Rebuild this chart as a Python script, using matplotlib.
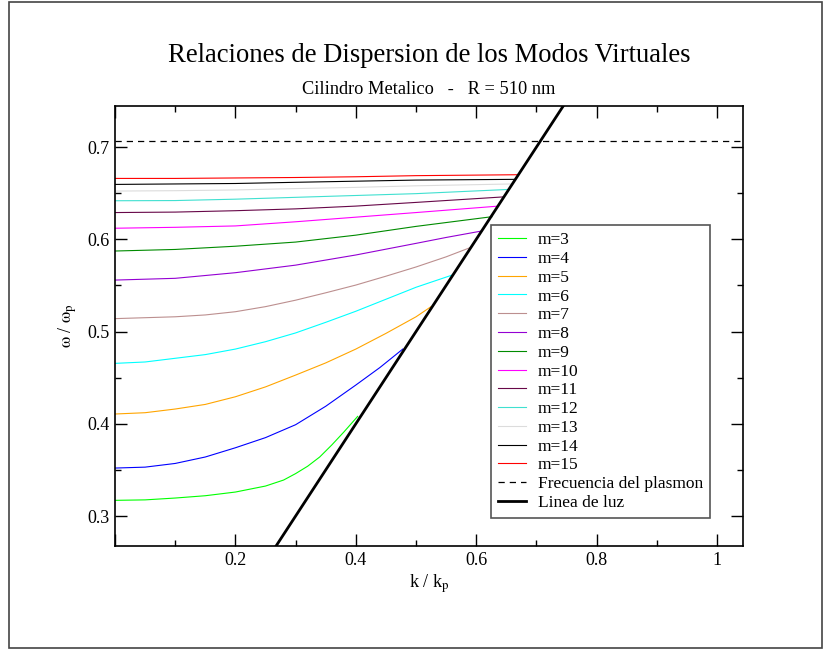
import numpy as np
import matplotlib.pyplot as plt
from matplotlib.patches import Rectangle
from matplotlib.ticker import MultipleLocator, FuncFormatter

plt.rcParams['font.family'] = ['Liberation Serif', 'DejaVu Serif']
plt.rcParams['mathtext.fontset'] = 'stix'

# modos m = 3..15 : k/kp y w/wp
modes = [3, 4, 5, 6, 7, 8, 9, 10, 11, 12, 13, 14, 15]

k_m3 = [0.0, 0.05, 0.1, 0.15, 0.2, 0.25, 0.28, 0.3, 0.32, 0.34, 0.36, 0.38, 0.403]
w_m3 = [0.317, 0.3175, 0.3195, 0.322, 0.326, 0.3325, 0.339, 0.346, 0.354, 0.364, 0.377, 0.391, 0.408]
k_m4 = [0.0, 0.05, 0.1, 0.15, 0.2, 0.25, 0.3, 0.35, 0.4, 0.44, 0.478]
w_m4 = [0.352, 0.353, 0.357, 0.364, 0.374, 0.385, 0.399, 0.419, 0.442, 0.461, 0.481]
k_m5 = [0.0, 0.05, 0.1, 0.15, 0.2, 0.25, 0.3, 0.35, 0.4, 0.45, 0.5, 0.525]
w_m5 = [0.4106, 0.412, 0.416, 0.421, 0.4293, 0.44, 0.4528, 0.466, 0.481, 0.498, 0.516, 0.527]
k_m6 = [0.0, 0.05, 0.1, 0.15, 0.2, 0.25, 0.3, 0.35, 0.4, 0.45, 0.5, 0.559]
w_m6 = [0.4655, 0.467, 0.471, 0.475, 0.481, 0.489, 0.4985, 0.51, 0.522, 0.535, 0.548, 0.561]
k_m7 = [0.0, 0.1, 0.15, 0.2, 0.25, 0.3, 0.35, 0.4, 0.45, 0.5, 0.55, 0.59]
w_m7 = [0.514, 0.516, 0.518, 0.5215, 0.527, 0.534, 0.542, 0.5504, 0.56, 0.57, 0.581, 0.591]
k_m8 = [0.0, 0.1, 0.2, 0.3, 0.4, 0.5, 0.55, 0.609]
w_m8 = [0.5558, 0.5577, 0.5638, 0.572, 0.583, 0.5956, 0.602, 0.609]
k_m9 = [0.0, 0.1, 0.2, 0.3, 0.4, 0.5, 0.626]
w_m9 = [0.5873, 0.589, 0.5925, 0.597, 0.6045, 0.614, 0.6245]
k_m10 = [0.0, 0.1, 0.2, 0.3, 0.4, 0.5, 0.637]
w_m10 = [0.612, 0.613, 0.6145, 0.619, 0.624, 0.629, 0.636]
k_m11 = [0.0, 0.1, 0.2, 0.3, 0.4, 0.5, 0.646]
w_m11 = [0.629, 0.6295, 0.631, 0.633, 0.636, 0.640, 0.646]
k_m12 = [0.0, 0.1, 0.2, 0.3, 0.4, 0.5, 0.652]
w_m12 = [0.6418, 0.642, 0.6435, 0.6455, 0.6475, 0.6495, 0.654]
k_m13 = [0.0, 0.1, 0.2, 0.3, 0.4, 0.5, 0.659]
w_m13 = [0.6523, 0.6527, 0.6535, 0.655, 0.6563, 0.658, 0.660]
k_m14 = [0.0, 0.1, 0.2, 0.3, 0.4, 0.5, 0.664]
w_m14 = [0.6595, 0.66, 0.6605, 0.6618, 0.663, 0.6642, 0.665]
k_m15 = [0.0, 0.1, 0.2, 0.3, 0.4, 0.5, 0.668]
w_m15 = [0.666, 0.666, 0.6665, 0.667, 0.6678, 0.669, 0.670]

w_plasma = 0.7071          # frecuencia del plasmon superficial
k_luz = [0.2, 0.8]         # linea de luz w = k
w_luz = [0.2, 0.8]

k_all = [k_m3, k_m4, k_m5, k_m6, k_m7, k_m8, k_m9, k_m10, k_m11, k_m12, k_m13, k_m14, k_m15]
w_all = [w_m3, w_m4, w_m5, w_m6, w_m7, w_m8, w_m9, w_m10, w_m11, w_m12, w_m13, w_m14, w_m15]

# paleta tipo Grace
colors = ['#00ff00', '#0000ff', '#ffa500', '#00ffff', '#bc8f8f', '#9400d3', '#008b00',
          '#ff00ff', '#670748', '#40e0d0', '#dcdcdc', '#000000', '#ff0000']

fig = plt.figure(figsize=(8.28, 6.5), dpi=100)
ax = fig.add_axes([0.1389, 0.16, 0.7584, 0.6769])

for k, w, m, c in zip(k_all, w_all, modes, colors):
    ax.plot(k, w, color=c, lw=0.8, label='m=%d' % m)
ax.axhline(w_plasma, color='k', ls=(0, (5, 4)), lw=0.9, label='Frecuencia del plasmon')
ax.plot(k_luz, w_luz, color='k', lw=2.0, label='Linea de luz')

ax.set_xlim(0, 1.043)
ax.set_ylim(0.2675, 0.7445)
ax.xaxis.set_major_locator(MultipleLocator(0.2))
ax.xaxis.set_minor_locator(MultipleLocator(0.1))
ax.yaxis.set_major_locator(MultipleLocator(0.1))
ax.yaxis.set_minor_locator(MultipleLocator(0.05))
fmt = FuncFormatter(lambda v, p: '' if v < 0.01 else '%g' % round(v, 3))
ax.xaxis.set_major_formatter(fmt)
ax.yaxis.set_major_formatter(fmt)
ax.tick_params(which='both', direction='in', top=True, right=True, labelsize=13, pad=4)
ax.tick_params(which='major', length=8.6, width=1.0)
ax.tick_params(which='minor', length=4.3, width=1.0)
for s in ax.spines.values():
    s.set_linewidth(1.2)

ax.set_xlabel(r'k / k$_\mathrm{p}$', fontsize=13)
ax.xaxis.set_label_coords(0.5, -0.06)
ax.set_ylabel(r'$\mathrm{\omega}$ / $\mathrm{\omega}_\mathrm{p}$', fontsize=13)
ax.yaxis.set_label_coords(-0.058, 0.5)

leg = ax.legend(loc='lower left', bbox_to_anchor=(0.599, 0.064), borderaxespad=0,
                fontsize=12.5, handlelength=1.6, handletextpad=0.7, labelspacing=0.15,
                borderpad=0.4, fancybox=False, framealpha=1, edgecolor='#555555')
leg.get_frame().set_linewidth(1.2)

fig.text(0.518, 0.915, 'Relaciones de Dispersion de los Modos Virtuales',
         ha='center', va='center', fontsize=19.2)
fig.text(0.518, 0.862, 'Cilindro Metalico   -   R = 510 nm',
         ha='center', va='center', fontsize=13.2)

fig.add_artist(Rectangle((0.011, 0.003), 0.982, 0.994, transform=fig.transFigure,
                         fill=False, ec='#444444', lw=1.2))

plt.savefig('out.png', dpi=100)
